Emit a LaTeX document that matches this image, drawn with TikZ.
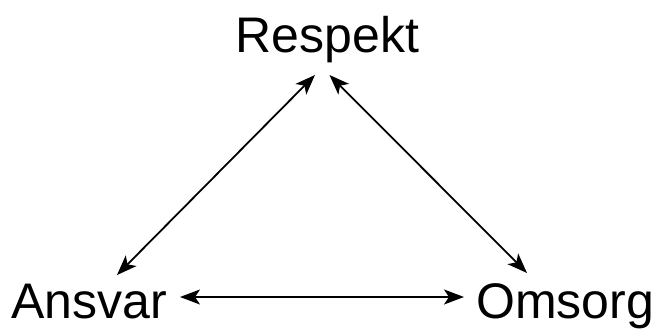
\documentclass[tikz,border=0pt]{standalone}
\usepackage{fontspec}
\setmainfont{Liberation Sans}
\usetikzlibrary{positioning,arrows.meta,calc}

\begin{document}
\begin{tikzpicture}[
  x=1pt, y=1pt,
  >={Stealth[length=20pt,width=15pt,inset=5pt]},
  word/.style={anchor=base,inner sep=0pt,font=\fontsize{50}{60}\selectfont},
  arrow/.style={<->,line width=1.8pt}
]
\useasboundingbox (0,0) rectangle (659,-329);
\node[word] (respekt) at (327.5,-53) {Respekt};
\node[word] (ansvar) at (89,-318) {Ansvar};
\node[word] (omsorg) at (565,-318) {Omsorg};

\draw[arrow] ($(respekt.base)+(-12.5,-22)$) -- ($(ansvar.base)+(28,43)$);
\draw[arrow] ($(respekt.base)+(2,-22)$) -- ($(omsorg.base)+(-38,45)$);
\draw[arrow] ($(ansvar.base)+(91,21)$) -- ($(omsorg.base)+(-101,21)$);
\end{tikzpicture}
\end{document}
